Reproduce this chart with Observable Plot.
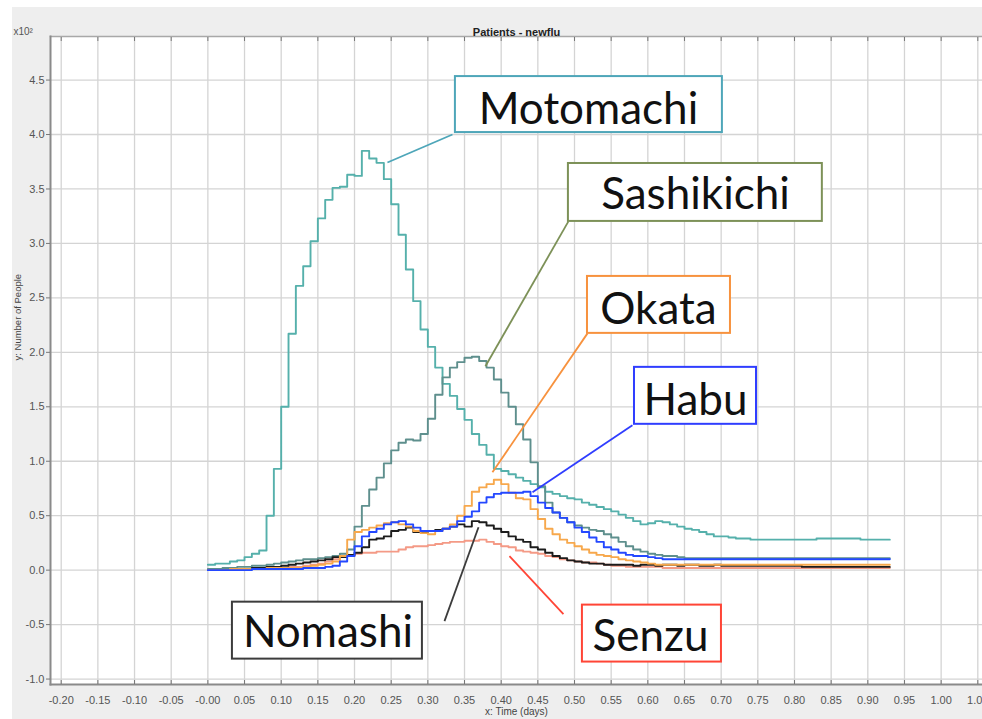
<!DOCTYPE html>
<html><head><meta charset="utf-8">
<script src="https://cdn.jsdelivr.net/npm/d3@7"></script>
<script src="https://cdn.jsdelivr.net/npm/@observablehq/plot@0.6"></script>
<style>
html,body{margin:0;padding:0;background:#fff;width:982px;height:719px;overflow:hidden;}
#chart{position:absolute;left:12px;top:7px;}
</style></head><body><div id="chart"></div>
<script>
// time bins (days), one value every 0.01 day from 0.00 to 0.93
const binWidth = 0.01;

// Number of people (x10^2)
const motomachi = [0.05,0.06,0.06,0.08,0.09,0.12,0.15,0.18,0.50,0.93,
1.50,2.17,2.61,2.79,3.02,3.23,3.40,3.51,3.52,3.63,
3.62,3.85,3.78,3.74,3.59,3.36,3.08,2.76,2.47,2.21,
2.05,1.86,1.71,1.60,1.48,1.38,1.25,1.15,1.06,0.93,
0.91,0.88,0.85,0.82,0.79,0.76,0.72,0.70,0.68,0.66,
0.65,0.62,0.60,0.58,0.56,0.54,0.51,0.48,0.45,0.42,
0.43,0.45,0.44,0.42,0.40,0.38,0.37,0.35,0.33,0.31,
0.31,0.30,0.29,0.29,0.28,0.28,0.28,0.28,0.28,0.28,
0.28,0.28,0.28,0.29,0.29,0.29,0.29,0.29,0.29,0.28,
0.28,0.28,0.28,0.28];
const sashikichi = [0.01,0.01,0.02,0.02,0.03,0.03,0.04,0.04,0.05,0.06,
0.07,0.08,0.09,0.10,0.10,0.11,0.12,0.13,0.15,0.19,
0.40,0.59,0.74,0.85,0.98,1.10,1.17,1.20,1.19,1.25,
1.39,1.61,1.77,1.86,1.91,1.95,1.96,1.92,1.86,1.75,
1.63,1.50,1.34,1.20,0.99,0.77,0.62,0.53,0.48,0.44,
0.41,0.39,0.37,0.36,0.33,0.30,0.26,0.22,0.19,0.17,
0.15,0.14,0.13,0.13,0.12,0.11,0.11,0.11,0.11,0.11,
0.11,0.11,0.11,0.11,0.11,0.11,0.11,0.11,0.11,0.11,
0.11,0.11,0.11,0.11,0.11,0.11,0.11,0.11,0.11,0.11,
0.11,0.11,0.11,0.11];
const okata = [0.00,0.00,0.00,0.01,0.01,0.01,0.01,0.01,0.02,0.02,
0.02,0.02,0.02,0.03,0.04,0.05,0.06,0.08,0.13,0.28,
0.35,0.37,0.39,0.41,0.43,0.44,0.42,0.40,0.36,0.34,
0.33,0.36,0.38,0.42,0.50,0.59,0.72,0.76,0.79,0.83,
0.79,0.71,0.66,0.65,0.56,0.47,0.38,0.33,0.28,0.25,
0.22,0.19,0.16,0.14,0.13,0.12,0.10,0.09,0.08,0.07,
0.06,0.05,0.05,0.05,0.05,0.05,0.05,0.05,0.05,0.05,
0.05,0.05,0.05,0.05,0.05,0.05,0.05,0.05,0.05,0.05,
0.05,0.05,0.05,0.05,0.05,0.05,0.05,0.05,0.05,0.05,
0.05,0.05,0.05,0.05];
const habu = [0.00,0.00,0.00,0.00,0.00,0.00,0.01,0.01,0.01,0.01,
0.01,0.01,0.01,0.02,0.02,0.02,0.03,0.04,0.08,0.13,
0.22,0.31,0.35,0.38,0.42,0.44,0.45,0.42,0.39,0.36,
0.36,0.36,0.38,0.40,0.45,0.49,0.54,0.62,0.67,0.70,
0.71,0.71,0.71,0.72,0.68,0.62,0.57,0.53,0.48,0.44,
0.39,0.35,0.30,0.26,0.21,0.19,0.16,0.14,0.13,0.13,
0.12,0.11,0.10,0.10,0.10,0.10,0.10,0.10,0.10,0.10,
0.10,0.10,0.10,0.10,0.10,0.10,0.10,0.10,0.10,0.10,
0.10,0.10,0.10,0.10,0.10,0.10,0.10,0.10,0.10,0.10,
0.10,0.10,0.10,0.10];
const nomashi = [0.00,0.00,0.00,0.00,0.01,0.01,0.02,0.02,0.03,0.03,
0.04,0.05,0.06,0.07,0.08,0.09,0.10,0.12,0.12,0.14,
0.16,0.21,0.28,0.29,0.31,0.36,0.37,0.39,0.35,0.35,
0.36,0.37,0.38,0.40,0.42,0.40,0.45,0.44,0.41,0.38,
0.35,0.31,0.28,0.26,0.21,0.19,0.16,0.13,0.11,0.09,
0.08,0.07,0.06,0.06,0.05,0.05,0.05,0.05,0.04,0.05,
0.05,0.04,0.05,0.05,0.04,0.05,0.05,0.04,0.04,0.05,
0.04,0.04,0.04,0.04,0.04,0.04,0.04,0.04,0.04,0.04,
0.04,0.03,0.03,0.03,0.03,0.03,0.03,0.03,0.03,0.03,
0.03,0.03,0.03,0.03];
const senzu = [0.00,0.00,0.00,0.00,0.01,0.01,0.01,0.01,0.02,0.02,
0.02,0.03,0.03,0.04,0.05,0.06,0.08,0.10,0.12,0.13,
0.15,0.16,0.16,0.17,0.17,0.17,0.19,0.21,0.22,0.22,
0.23,0.24,0.25,0.26,0.26,0.27,0.27,0.28,0.26,0.24,
0.22,0.21,0.18,0.17,0.16,0.15,0.13,0.12,0.10,0.09,
0.08,0.07,0.07,0.06,0.05,0.04,0.04,0.03,0.03,0.03,
0.03,0.03,0.02,0.02,0.02,0.02,0.02,0.02,0.02,0.02,
0.02,0.02,0.02,0.02,0.02,0.02,0.02,0.02,0.02,0.02,
0.02,0.02,0.02,0.02,0.02,0.02,0.02,0.02,0.02,0.02,
0.02,0.02,0.02,0.02];

const seriesNames = ["Motomachi","Sashikichi","Senzu","Nomashi","Okata","Habu"];
const seriesValues = [motomachi, sashikichi, senzu, nomashi, okata, habu];
const seriesColors = ["#55b0ab","#5e8f8d","#f49a86","#1c1c1c","#f7a84c","#2448ff"];

const xTickValues = [-0.20,-0.15,-0.10,-0.05,0.00,0.05,0.10,0.15,0.20,0.25,0.30,0.35,0.40,0.45,0.50,0.55,0.60,0.65,0.70,0.75,0.80,0.85,0.90,0.95,1.00,1.05];
const xTickLabels = ["-0.20","-0.15","-0.10","-0.05","-0.00","0.05","0.10","0.15","0.20","0.25","0.30","0.35","0.40","0.45","0.50","0.55","0.60","0.65","0.70","0.75","0.80","0.85","0.90","0.95","1.00","1.05"];
const yTickValues = [-1.0,-0.5,0.0,0.5,1.0,1.5,2.0,2.5,3.0,3.5,4.0,4.5];
const yTickLabels = ["-1.0","-0.5","0.0","0.5","1.0","1.5","2.0","2.5","3.0","3.5","4.0","4.5"];

// callout annotations (label boxes placed in data coordinates)
const calloutNames = ["Motomachi","Sashikichi","Okata","Habu","Nomashi","Senzu"];
const calloutColors = ["#4ea6b9","#7d9158","#f7923e","#2f3dff","#3c3c3c","#ff4536"];
const calloutBox = [
  [0.3376,0.7017,4.018,4.532],
  [0.4917,0.8380,3.202,3.734],
  [0.5177,0.7127,2.174,2.697],
  [0.5818,0.7482,1.339,1.862],
  [0.0335,0.2926,-0.817,-0.294],
  [0.5108,0.7004,-0.844,-0.321]
];
const calloutText = [[0.519,4.092],[0.665,3.312],[0.6145,2.257],[0.665,1.422],[0.1638,-0.706],[0.6036,-0.743]];
const calloutLeader = [
  [0.3336,4.000,0.2449,3.743],
  [0.4917,3.202,0.3785,1.872],
  [0.5177,2.174,0.3881,0.899],
  [0.5790,1.330,0.4427,0.716],
  [0.3227,-0.468,0.3691,0.394],
  [0.4849,-0.404,0.4113,0.128]
];

const rows = seriesNames.flatMap((name, s) =>
  seriesValues[s].map((v, i) => ({name, t: i * binWidth, v})));
const callouts = calloutNames.map((name, k) => ({
  name, color: calloutColors[k],
  x1: calloutBox[k][0], x2: calloutBox[k][1], y1: calloutBox[k][2], y2: calloutBox[k][3],
  tx: calloutText[k][0], ty: calloutText[k][1],
  lx1: calloutLeader[k][0], ly1: calloutLeader[k][1], lx2: calloutLeader[k][2], ly2: calloutLeader[k][3]
}));

const chart = Plot.plot({
  width: 970, height: 712,
  marginLeft: 38, marginTop: 29, marginRight: 0, marginBottom: 35,
  style: {background: "#eeeeee", fontFamily: "'Liberation Sans', Arial, sans-serif", overflow: "visible"},
  x: {domain: [-0.2146, 1.0564], label: null},
  y: {domain: [-1.05, 4.90], label: null},
  color: {domain: seriesNames, range: seriesColors},
  marks: [
    Plot.frame({fill: "white", stroke: "none"}),
    Plot.gridX({ticks: xTickValues, stroke: "#d4d4d4", strokeOpacity: 1, strokeWidth: 1.3}),
    Plot.gridY({ticks: yTickValues, stroke: "#d4d4d4", strokeOpacity: 1, strokeWidth: 1.3}),
    Plot.frame({anchor: "top", stroke: "#a8a8a8", strokeWidth: 1.5}),
    Plot.frame({anchor: "left", stroke: "#8a8a8a", strokeWidth: 2}),
    Plot.frame({anchor: "bottom", stroke: "#8a8a8a", strokeWidth: 2}),
    Plot.axisX({ticks: xTickValues, tickSize: 0, tickPadding: 12, fontSize: 11, fill: "#555",
      tickFormat: d => xTickLabels[xTickValues.indexOf(d)], label: null}),
    Plot.axisX({ticks: xTickValues, tickSize: -4, stroke: "#777", tickFormat: () => "", label: null}),
    Plot.axisX({anchor: "top", ticks: xTickValues, tickSize: -4, stroke: "#777", tickFormat: () => "", label: null}),
    Plot.axisY({ticks: yTickValues, tickSize: 4, tickPadding: 2, fontSize: 11, fill: "#555", stroke: "#777",
      tickFormat: d => yTickLabels[yTickValues.indexOf(d)], label: null}),
    Plot.line(rows, {x: "t", y: "v", z: "name", stroke: "name", strokeWidth: 1.9, curve: "step-after"}),
    Plot.link(callouts, {x1: "lx1", y1: "ly1", x2: "lx2", y2: "ly2", stroke: "color", strokeWidth: 1.8}),
    Plot.rect(callouts, {x1: "x1", x2: "x2", y1: "y1", y2: "y2", fill: "white", stroke: "color", strokeWidth: 2}),
    Plot.text(callouts, {x: "tx", y: "ty", text: "name", fontFamily: "Lato", fontSize: 44, fill: "#111",
      textAnchor: "middle", lineAnchor: "bottom"}),
    Plot.text(["Patients - newflu"], {frameAnchor: "top", dy: -8, fontWeight: "bold", fontSize: 11, fill: "#222"}),
    Plot.text(["x10²"], {frameAnchor: "top-left", dx: -37, dy: -9, textAnchor: "start", fontSize: 10, fill: "#555"}),
    Plot.text(["x: Time (days)"], {frameAnchor: "bottom", dy: 30, fontSize: 10, fill: "#444"}),
    Plot.text(["y: Number of People"], {frameAnchor: "left", dx: -33, rotate: -90, fontSize: 9.5, fill: "#444"})
  ]
});
document.getElementById("chart").appendChild(chart);
</script></body></html>
